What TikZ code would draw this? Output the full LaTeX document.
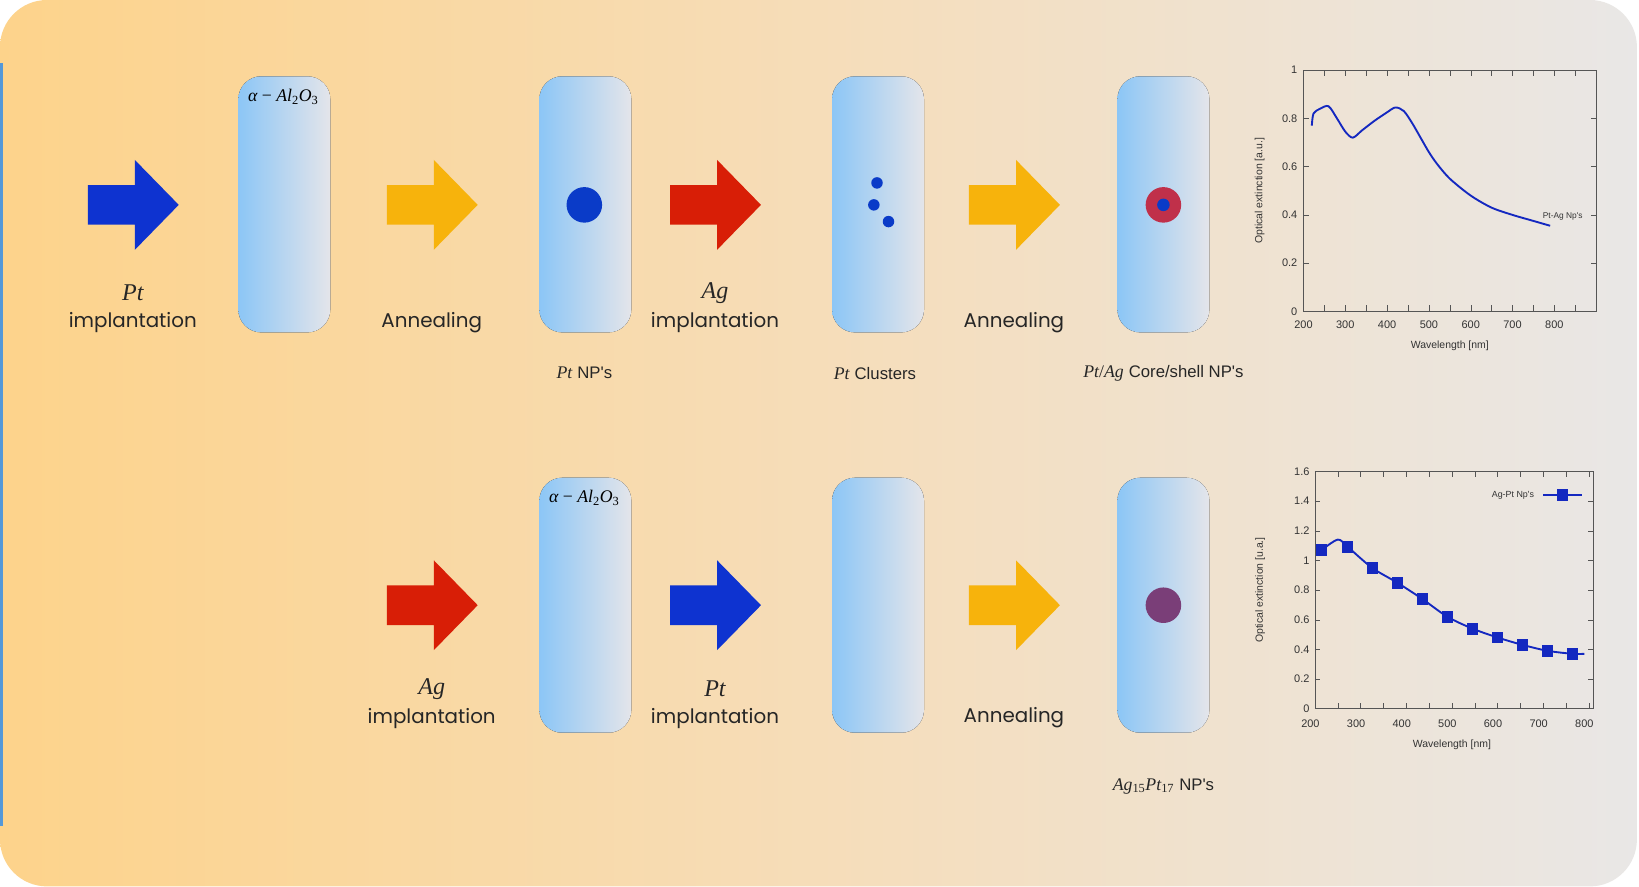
\documentclass[tikz,border=0pt]{standalone}
\usepackage{fontspec}
\setsansfont{Poppins}
\newfontfamily\plotfont{Liberation Sans}
\newfontfamily\elfont{Liberation Serif}
\usetikzlibrary{shapes.geometric}
\definecolor{bgL}{HTML}{FDD38B}
\definecolor{bgM}{HTML}{F6DDB9}
\definecolor{bgR}{HTML}{E9E7E6}
\definecolor{slL}{HTML}{8CC6F6}
\definecolor{slR}{HTML}{E4E5EA}
\definecolor{aBlue}{HTML}{0E33D0}
\definecolor{aOrange}{HTML}{F7B30C}
\definecolor{aRed}{HTML}{D81E06}
\definecolor{dotBlue}{HTML}{0A3BC8}
\definecolor{shellRed}{HTML}{C0304A}
\definecolor{alloy}{HTML}{7A3E78}
\definecolor{curve}{HTML}{1428C0}
\definecolor{axisgray}{HTML}{555555}
\newcommand\bigarrow[3]{\fill[#3] (#1,#2-19) -- (#1+45,#2-19) -- (#1+45,#2-43) -- (#1+87,#2) -- (#1+45,#2+43) -- (#1+45,#2+19) -- (#1,#2+19) -- cycle;}
\newcommand\el[1]{{\elfont\itshape #1}}
\tikzset{
 slide/.style={rounded corners=22pt, left color=slL, right color=slR, draw=none},
 lbl/.style={font=\sffamily\fontsize{19}{22}\selectfont, text=black!85},
 elem/.style={font=\elfont\itshape\fontsize{23}{25}\selectfont, text=black!85},
 captxt/.style={font=\fontsize{16}{18}\selectfont, text=black!85},
 ticklbl/.style={font=\plotfont\fontsize{10.5}{12}\selectfont, text=black!80},
 axlab/.style={font=\plotfont\fontsize{10}{12}\selectfont, text=black!80},
}
\begin{document}
\begin{tikzpicture}[x=1pt,y=-1pt]
\useasboundingbox (0,0) rectangle (1568,848);
\fill[white] (0,0) rectangle (1568,848);
\shade[rounded corners=45pt, left color=bgL, right color=bgR, middle color=bgM] (0,0) rectangle (1566,848);
\fill[cyan!60!blue!70] (0,60) rectangle (2.5,790);
% slides
\fill[slide] (228,73) rectangle (316,318);
\fill[slide] (516,73) rectangle (604,318);
\fill[slide] (796,73) rectangle (884,318);
\fill[slide] (1069,73) rectangle (1157,318);
\fill[slide] (516,457) rectangle (604,701);
\fill[slide] (796,457) rectangle (884,701);
\fill[slide] (1069,457) rectangle (1157,701);
% arrows
\bigarrow{84}{196}{aBlue}
\bigarrow{370}{196}{aOrange}
\bigarrow{641}{196}{aRed}
\bigarrow{927}{196}{aOrange}
\bigarrow{370}{579}{aRed}
\bigarrow{641}{579}{aBlue}
\bigarrow{927}{579}{aOrange}
% particles
\fill[dotBlue] (559,196) circle (17);
\fill[dotBlue] (839,175) circle (5.5);
\fill[dotBlue] (836,196) circle (5.5);
\fill[dotBlue] (850,212) circle (5.5);
\fill[shellRed] (1113,196) circle (17);
\fill[dotBlue] (1113,196) circle (6);
\fill[alloy] (1113,579) circle (17);
% labels
\node[font=\elfont\fontsize{17}{19}\selectfont] (al1) at (271,93) {\el{α} − \el{Al}\textsubscript{2}\el{O}\textsubscript{3}};
\node[font=\elfont\fontsize{17}{19}\selectfont] (al2) at (559,476) {\el{α} − \el{Al}\textsubscript{2}\el{O}\textsubscript{3}};
\node[elem] (e1) at (127,280) {Pt};
\node[lbl] (l1) at (127,309) {implantation};
\node[lbl] (l2) at (413,309) {Annealing};
\node[elem] (e3) at (684,280) {Ag};
\node[lbl] (l3) at (684,309) {implantation};
\node[lbl] (l4) at (970,309) {Annealing};
\node[elem] (e5) at (413,659) {Ag};
\node[lbl] (l5) at (413,687) {implantation};
\node[elem] (e6) at (684,659) {Pt};
\node[lbl] (l6) at (684,687) {implantation};
\node[lbl] (l7) at (970,687) {Annealing};
\node[captxt] (c1) at (559,357) {{\elfont\fontsize{17}{18}\selectfont\el{Pt}} {\plotfont NP's}};
\node[captxt] (c2) at (837,357) {{\elfont\fontsize{17}{18}\selectfont\el{Pt}} {\plotfont Clusters}};
\node[captxt] (c3) at (1113,357) {{\elfont\fontsize{17}{18}\selectfont\el{Pt}/\el{Ag}} {\plotfont Core/shell NP's}};
\node[captxt] (c4) at (1113,752) {{\elfont\fontsize{17}{18}\selectfont\el{Ag}\textsubscript{15}\el{Pt}\textsubscript{17}} {\plotfont NP's}};
% top plot
\begin{scope}[shift={(1247,298)}, xscale=0.4, yscale=-231]
 \draw[axisgray, line width=0.8pt] (0,0) rectangle (700,1);
 \foreach \i in {0,50,...,700}{\draw[axisgray] (\i,0) -- (\i,0.025); \draw[axisgray] (\i,1) -- (\i,0.975);}
 \foreach \v in {0,0.2,0.4,0.6,0.8,1}{\draw[axisgray] (0,\v) -- (12,\v); \draw[axisgray] (700,\v) -- (688,\v);}
 \foreach \i/\t in {0/200,100/300,200/400,300/500,400/600,500/700,600/800}{\node[ticklbl] at (\i,-0.055) {\t};}
 \foreach \v in {0,0.2,0.4,0.6,0.8,1}{\node[ticklbl, anchor=east] at (-6,\v) {\v};}
 \draw[curve, line width=1.8pt, line join=round] plot[smooth, tension=0.5] coordinates {(20,0.77) (24,0.82) (40,0.84) (60,0.85) (80,0.80) (100,0.745) (118,0.72) (140,0.75) (170,0.79) (200,0.825) (220,0.845) (240,0.83) (260,0.78) (280,0.72) (300,0.66) (320,0.61) (350,0.55) (400,0.48) (450,0.43) (500,0.40) (550,0.375) (590,0.355)};
 \node[font=\plotfont\fontsize{8}{9}\selectfont, text=black!80] (lg1) at (620,0.395) {Pt-Ag Np's};
 \node[axlab] (xl1) at (350,-0.14) {Wavelength [nm]};
 \node[axlab, rotate=90] (yl1) at (-105,0.5) {Optical extinction [a.u.]};
\end{scope}
% bottom plot
\begin{scope}[shift={(1258,678)}, xscale=0.4367, yscale=-141.9]
 \draw[axisgray, line width=0.8pt] (0,0) rectangle (609,1.6);
 \foreach \i in {0,50,...,600}{\draw[axisgray] (\i,0) -- (\i,0.04); \draw[axisgray] (\i,1.6) -- (\i,1.56);}
 \foreach \v in {0,0.2,...,1.6}{\draw[axisgray] (0,\v) -- (12,\v); \draw[axisgray] (609,\v) -- (597,\v);}
 \foreach \i/\t in {0/200,100/300,200/400,300/500,400/600,500/700,600/800}{\node[ticklbl] at (\i-10,-0.1) {\t};}
 \foreach \v/\t in {0/0,0.2/0.2,0.4/0.4,0.6/0.6,0.8/0.8,1/1,1.2/1.2,1.4/1.4,1.6/1.6}{\node[ticklbl, anchor=east] at (-4,\v) {\t};}
 \draw[curve, line width=1.8pt, line join=round] plot[smooth, tension=0.5] coordinates {(15,1.07) (50,1.14) (72,1.09) (125,0.95) (180,0.85) (235,0.74) (290,0.62) (345,0.54) (400,0.48) (455,0.43) (510,0.39) (565,0.37) (590,0.37)};
 \foreach \p/\q in {15/1.07,72/1.09,125/0.95,180/0.85,235/0.74,290/0.62,345/0.54,400/0.48,455/0.43,510/0.39,565/0.37}{\fill[curve] (\p,\q) +(-12,0.04) rectangle +(12,-0.04);}
 \node[font=\plotfont\fontsize{8.5}{10}\selectfont, text=black!80, anchor=east] (lg2) at (488,1.44) {Ag-Pt Np's};
 \draw[curve, line width=1.6pt] (500,1.44) -- (585,1.44);
 \fill[curve] (530,1.48) rectangle (555,1.40);
 \node[axlab] (xl2) at (300,-0.24) {Wavelength [nm]};
 \node[axlab, rotate=90] (yl2) at (-120,0.8) {Optical extinction [u.a.]};
\end{scope}
\end{tikzpicture}
\end{document}
